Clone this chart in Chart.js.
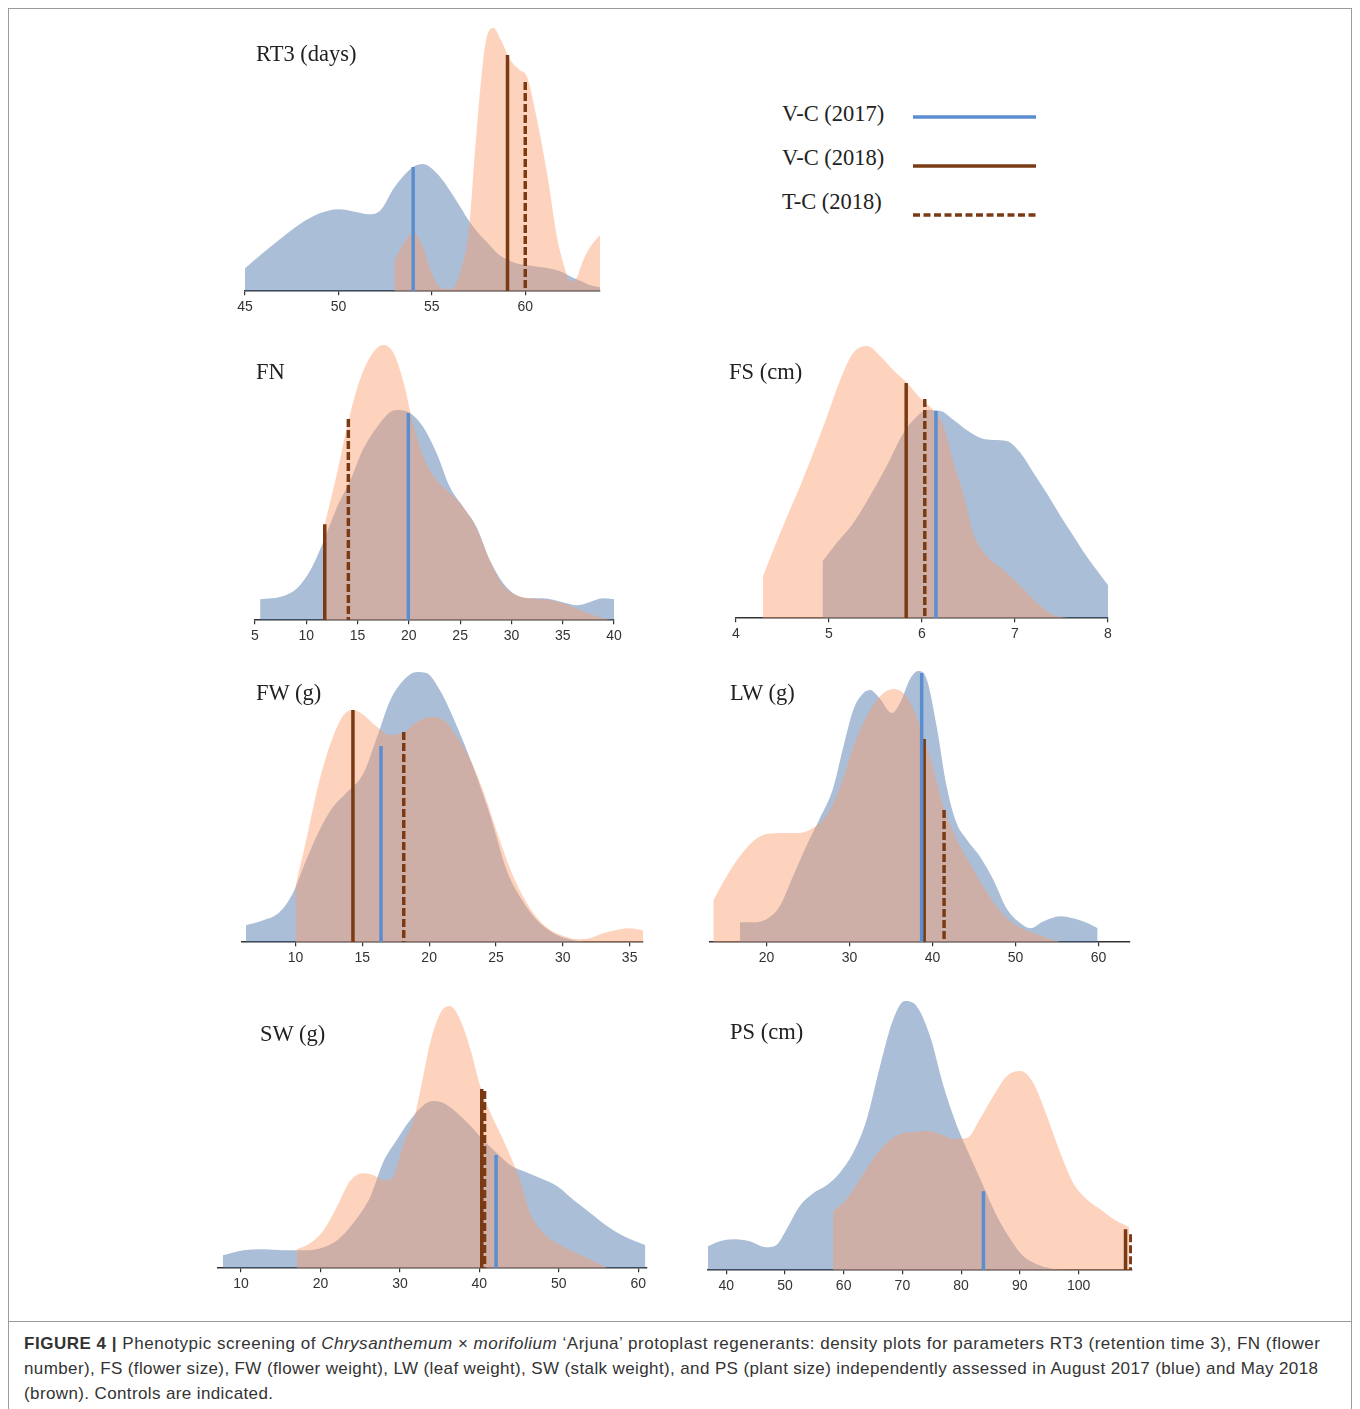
<!DOCTYPE html>
<html>
<head>
<meta charset="utf-8">
<script src="https://cdn.jsdelivr.net/npm/chart.js@4/dist/chart.umd.min.js"></script>
<style>
  html, body { margin:0; padding:0; background:#fff; }
  #page { position:relative; width:1360px; height:1409px; overflow:hidden; background:#fff; }
  canvas { position:absolute; }
  .frame { position:absolute; background:#9a9a9a; }
  .ptitle { position:absolute; font-family:"Liberation Serif","Times New Roman",serif; font-size:22.5px; line-height:22.5px; color:#222; white-space:nowrap; }
  .legline { position:absolute; }
  .capline { position:absolute; left:24px; font-family:"Liberation Sans",Arial,sans-serif; font-size:17px; line-height:25px; color:#333; white-space:nowrap; }
</style>
</head>
<body>
<div id="page">
  <div class="frame" style="left:8px;top:8px;width:1344px;height:1px;"></div>
  <div class="frame" style="left:8px;top:8px;width:1px;height:1401px;"></div>
  <div class="frame" style="left:1351px;top:8px;width:1px;height:1401px;"></div>
  <div class="frame" style="left:8px;top:1321px;width:1344px;height:1px;"></div>

  <canvas id="cRT3" width="395" height="309" style="left:225px;top:11px;"></canvas>
  <canvas id="cFN" width="399" height="309" style="left:235px;top:340px;"></canvas>
  <canvas id="cFS" width="412" height="309" style="left:716px;top:338px;"></canvas>
  <canvas id="cFW" width="441" height="309" style="left:222px;top:662px;"></canvas>
  <canvas id="cLW" width="460" height="309" style="left:690px;top:662px;"></canvas>
  <canvas id="cSW" width="469" height="309" style="left:198px;top:988px;"></canvas>
  <canvas id="cPS" width="464" height="309" style="left:688px;top:990px;"></canvas>

  <div class="ptitle" style="left:256px;top:43px;">RT3 (days)</div>
  <div class="ptitle" style="left:256px;top:361px;">FN</div>
  <div class="ptitle" style="left:729px;top:361px;">FS (cm)</div>
  <div class="ptitle" style="left:256px;top:682px;">FW (g)</div>
  <div class="ptitle" style="left:730px;top:682px;">LW (g)</div>
  <div class="ptitle" style="left:260px;top:1023px;">SW (g)</div>
  <div class="ptitle" style="left:730px;top:1021px;">PS (cm)</div>

  <div class="ptitle" style="left:782px;top:103px;">V-C (2017)</div>
  <div class="ptitle" style="left:782px;top:147px;">V-C (2018)</div>
  <div class="ptitle" style="left:782px;top:191px;">T-C (2018)</div>
  <svg class="legline" style="left:900px;top:100px;" width="150" height="130">
    <line x1="13" y1="17" x2="136" y2="17" stroke="#5b8ed1" stroke-width="3.5"/>
    <line x1="13" y1="66" x2="136" y2="66" stroke="#7a3b14" stroke-width="3.5"/>
    <line x1="13" y1="115" x2="136" y2="115" stroke="#7a3b14" stroke-width="3.5" stroke-dasharray="7 3.5"/>
  </svg>

  <div class="capline" data-w="1296" style="top:1331px;"><b>FIGURE 4 |</b> Phenotypic screening of <i>Chrysanthemum</i> × <i>morifolium</i> ‘Arjuna’ protoplast regenerants: density plots for parameters RT3 (retention time 3), FN (flower</div>
  <div class="capline" data-w="1294" style="top:1356px;">number), FS (flower size), FW (flower weight), LW (leaf weight), SW (stalk weight), and PS (plant size) independently assessed in August 2017 (blue) and May 2018</div>
  <div class="capline" data-w="249" style="top:1381px;">(brown). Controls are indicated.</div>
</div>

<script>
// ---------------- DATA (density heights in arbitrary units) ----------------
// RT3
const RT3_TICKS = [45, 50, 55, 60];
const RT3_BLUE_X = [45, 46, 47, 48, 49, 50, 51, 51.6, 52.2, 53, 54, 54.5, 55.3, 56.3, 57, 57.5, 58, 58.5, 59, 59.5, 60.5, 61.5, 62, 62.5, 63, 63.5, 64];
const RT3_BLUE_Y = [23, 39, 54, 68, 78, 82, 79, 77, 80, 104, 124, 127, 117, 91, 70, 58, 48, 38, 32, 28, 25, 22, 19, 14, 10, 6, 4];
const RT3_PINK_X = [53, 53.5, 54, 54.5, 55, 55.5, 56, 56.5, 57, 57.3, 57.6, 57.9, 58.3, 58.7, 59.2, 59.7, 60.1, 60.6, 61.2, 61.7, 62.1, 62.4, 62.7, 63.1, 63.5, 64];
const RT3_PINK_Y = [31, 48, 59, 45, 18, 3, 2, 18, 64, 138, 204, 251, 263, 251, 231, 221, 214, 174, 114, 54, 24, 10, 12, 31, 45, 56];
const RT3_CTRL_X = [54.0, 59.05, 60.0];   // V-C 2017, V-C 2018, T-C 2018
const RT3_CTRL_H = [124, 236, 209];

// FN
const FN_TICKS = [5, 10, 15, 20, 25, 30, 35, 40];
const FN_BLUE_X = [5.5, 7.7, 9.1, 10.4, 11.6, 13.0, 14.3, 15.5, 16.9, 18.2, 19.1, 20.1, 21.4, 22.7, 24.0, 25.3, 26.6, 27.9, 29.2, 30.5, 31.8, 33.1, 35.0, 36.4, 37.6, 38.9, 40];
const FN_BLUE_Y = [21, 24, 32, 50, 77, 113, 140, 170, 193, 208, 210, 207, 193, 167, 133, 113, 93, 60, 37, 25, 22, 22, 18, 15, 18, 22, 21];
const FN_PINK_X = [11.8, 13.0, 13.9, 14.9, 15.9, 16.9, 17.5, 18.5, 19.5, 20.4, 21.4, 22.7, 24.0, 25.3, 26.6, 27.9, 29.2, 30.5, 31.8, 33.8, 35.0, 37.0, 38.9, 40];
const FN_PINK_Y = [96, 147, 190, 230, 257, 272, 275, 267, 237, 197, 164, 140, 127, 113, 92, 60, 35, 25, 22, 20, 17, 9, 2, 0];
const FN_CTRL_X = [19.95, 11.8, 14.1];
const FN_CTRL_H = [207, 96, 201];

// FS
const FS_TICKS = [4, 5, 6, 7, 8];
const FS_BLUE_X = [4.93, 5.08, 5.26, 5.44, 5.62, 5.80, 5.95, 6.05, 6.20, 6.34, 6.48, 6.63, 6.77, 6.91, 7.06, 7.20, 7.34, 7.49, 7.63, 7.77, 7.92, 8.0];
const FS_BLUE_Y = [57, 75, 95, 122, 152, 185, 202, 208, 207, 198, 188, 180, 178, 177, 165, 145, 125, 102, 82, 62, 43, 33];
const FS_PINK_X = [4.29, 4.40, 4.55, 4.69, 4.83, 4.98, 5.12, 5.26, 5.41, 5.55, 5.69, 5.84, 5.98, 6.12, 6.23, 6.34, 6.45, 6.55, 6.70, 6.88, 7.06, 7.24, 7.42, 7.6];
const FS_PINK_Y = [42, 68, 102, 132, 165, 202, 238, 265, 272, 262, 248, 235, 220, 208, 192, 155, 122, 85, 62, 48, 32, 15, 3, 0];
const FS_CTRL_X = [6.15, 5.83, 6.03];
const FS_CTRL_H = [207, 235, 219];

// FW
const FW_TICKS = [10, 15, 20, 25, 30, 35];
const FW_BLUE_X = [6.3, 7.6, 8.8, 9.8, 10.8, 11.8, 12.8, 13.8, 15.1, 16.1, 17.1, 18.1, 19.1, 19.8, 20.8, 22.1, 23.3, 24.6, 25.8, 27.1, 28.3, 29.6, 30.8, 32];
const FW_BLUE_Y = [17, 22, 30, 49, 82, 112, 135, 149, 169, 205, 242, 262, 270, 269, 252, 215, 175, 125, 72, 39, 19, 7, 2, 0];
const FW_PINK_X = [10.0, 10.8, 11.8, 12.8, 13.6, 14.3, 15.1, 16.1, 17.1, 18.1, 19.1, 20.1, 21.1, 22.1, 23.1, 24.1, 25.1, 26.1, 27.1, 28.1, 29.1, 30.1, 31.1, 32.0, 33.0, 34.3, 35.0, 36.0];
const FW_PINK_Y = [56, 102, 162, 205, 227, 232, 227, 215, 207, 210, 220, 225, 222, 205, 182, 149, 109, 72, 44, 24, 12, 6, 3, 4, 9, 13, 14, 12];
const FW_CTRL_X = [16.4, 14.3, 18.1];
const FW_CTRL_H = [196, 232, 210];

// LW
const LW_TICKS = [20, 30, 40, 50, 60];
const LW_BLUE_X = [16.8, 18.4, 20.0, 21.6, 23.2, 24.8, 26.4, 28.0, 29.2, 30.5, 31.7, 32.5, 33.7, 35.1, 36.1, 37.3, 38.3, 39.3, 40.5, 41.7, 42.9, 44.1, 45.7, 47.3, 49.0, 50.6, 51.8, 53.4, 55.4, 57.4, 59.0, 59.9];
const LW_BLUE_Y = [20, 20, 23, 36, 66, 96, 123, 153, 193, 233, 249, 252, 243, 229, 239, 263, 271, 263, 216, 156, 119, 103, 86, 63, 33, 19, 14, 21, 26, 23, 18, 14];
const LW_PINK_X = [13.6, 15.2, 16.8, 18.4, 20.0, 22.0, 24.0, 25.6, 27.2, 28.8, 30.5, 32.1, 33.7, 35.3, 36.5, 37.7, 38.9, 40.1, 41.3, 42.9, 44.5, 46.1, 47.7, 49.4, 51.0, 52.6, 54.2, 55.5];
const LW_PINK_Y = [42, 66, 86, 101, 108, 109, 109, 114, 126, 153, 196, 226, 246, 253, 249, 233, 206, 173, 136, 103, 79, 56, 36, 21, 13, 8, 3, 0];
const LW_CTRL_X = [38.7, 39.0, 41.4];
const LW_CTRL_H = [269, 203, 132];

// SW
const SW_TICKS = [10, 20, 30, 40, 50, 60];
const SW_BLUE_X = [7.7, 10.3, 12.8, 15.3, 17.9, 20.0, 22.1, 24.1, 26.3, 27.9, 29.6, 31.3, 33.0, 34.2, 35.5, 37.2, 38.9, 40.5, 42.2, 43.9, 45.6, 47.7, 49.8, 51.9, 54.0, 56.1, 58.2, 60.9];
const SW_BLUE_Y = [13, 18, 19, 18, 18, 20, 28, 45, 72, 106, 128, 148, 163, 167, 165, 155, 142, 128, 115, 103, 97, 90, 82, 68, 55, 42, 32, 23];
const SW_PINK_X = [17.0, 18.7, 20.4, 22.1, 23.7, 25.4, 26.7, 27.9, 29.0, 30.5, 31.7, 32.5, 33.8, 35.1, 36.3, 37.6, 38.9, 40.1, 41.4, 42.6, 43.9, 45.1, 46.4, 48.1, 50.2, 52.3, 54.4, 56.1];
const SW_PINK_Y = [19, 25, 38, 62, 87, 95, 93, 88, 90, 125, 148, 175, 225, 255, 262, 248, 218, 182, 155, 135, 112, 88, 55, 35, 23, 15, 7, 0];
const SW_CTRL_X = [42.1, 40.3, 40.65];
const SW_CTRL_H = [113, 179, 177];

// PS
const PS_TICKS = [40, 50, 60, 70, 80, 90, 100];
const PS_BLUE_X = [36.9, 38.9, 41.1, 44.0, 46.8, 48.5, 50.2, 52.5, 54.8, 57.1, 59.3, 61.6, 63.9, 66.2, 68.4, 70.4, 72.4, 74.7, 77.0, 79.3, 81.5, 83.8, 86.1, 88.4, 90.6, 92.9, 95.2, 97.5];
const PS_BLUE_Y = [24, 29, 31, 29, 23, 25, 40, 64, 77, 85, 97, 117, 150, 204, 250, 269, 264, 234, 184, 144, 114, 84, 54, 31, 14, 6, 2, 0];
const PS_PINK_X = [58.2, 60.5, 62.8, 65.0, 67.3, 69.6, 71.9, 74.1, 76.4, 78.7, 81.0, 83.2, 85.5, 87.8, 90.1, 92.3, 94.6, 96.9, 99.1, 101.4, 103.7, 106.0, 108.3, 108.6];
const PS_PINK_Y = [59, 71, 91, 111, 127, 136, 138, 139, 136, 131, 132, 151, 174, 194, 199, 187, 154, 117, 87, 71, 61, 51, 44, 43];
const PS_CTRL_X = [83.8, 108.0, 108.9];
const PS_CTRL_H = [79, 41, 36];

const CTRL_NAMES = ['V-C (2017)', 'V-C (2018)', 'T-C (2018)'];
const Y_MAX = 280;

// ---------------- STYLE ----------------
const BLUE_FILL = 'rgba(66,110,166,0.45)';
const PINK_FILL = 'rgba(251,157,108,0.45)';
const BLUE_LINE = '#5b8ed1';
const BROWN_LINE = '#7a3b14';

function pts(xs, ys) { return xs.map((x, i) => ({ x: x, y: ys[i] })); }

function makeChart(id, min, max, ticks, bx, by, px, py, cx, ch) {
  const ctrlStyles = [
    { color: BLUE_LINE, dash: [] },
    { color: BROWN_LINE, dash: [] },
    { color: BROWN_LINE, dash: [8, 3] }
  ];
  const datasets = [];
  cx.forEach((x, i) => {
    datasets.push({
      label: CTRL_NAMES[i],
      data: [{ x: x, y: ch[i] }, { x: x, y: 0 }],
      borderColor: ctrlStyles[i].color,
      borderDash: ctrlStyles[i].dash,
      borderWidth: 3.5,
      borderCapStyle: 'butt',
      pointRadius: 0,
      fill: false,
      tension: 0,
      order: i === 0 ? 0 : 1
    });
  });
  datasets.push({
    label: '2018',
    data: pts(px, py),
    backgroundColor: PINK_FILL,
    borderColor: 'rgba(0,0,0,0)',
    borderWidth: 0,
    pointRadius: 0,
    fill: 'origin',
    cubicInterpolationMode: 'monotone',
    order: 5
  });
  datasets.push({
    label: '2017',
    data: pts(bx, by),
    backgroundColor: BLUE_FILL,
    borderColor: 'rgba(0,0,0,0)',
    borderWidth: 0,
    pointRadius: 0,
    fill: 'origin',
    cubicInterpolationMode: 'monotone',
    order: 6
  });
  return new Chart(document.getElementById(id), {
    type: 'line',
    data: { datasets: datasets },
    options: {
      responsive: false,
      animation: false,
      maintainAspectRatio: false,
      layout: { padding: { left: 20, right: 20, top: 0, bottom: 0 } },
      plugins: { legend: { display: false }, tooltip: { enabled: false }, title: { display: false } },
      scales: {
        x: {
          type: 'linear',
          min: min, max: max,
          afterBuildTicks: (s) => { s.ticks = ticks.map(v => ({ value: v })); },
          grid: { display: true, drawOnChartArea: false, drawTicks: true, tickLength: 4, color: '#333', lineWidth: 1.2 },
          border: { display: true, color: '#333', width: 1.5 },
          ticks: { font: { family: '"Liberation Sans", Arial, sans-serif', size: 14 }, color: '#333', padding: 4, maxRotation: 0, autoSkip: false }
        },
        y: { display: false, min: 0, max: Y_MAX }
      }
    }
  });
}

makeChart('cRT3', 45, 64, RT3_TICKS, RT3_BLUE_X, RT3_BLUE_Y, RT3_PINK_X, RT3_PINK_Y, RT3_CTRL_X, RT3_CTRL_H);
makeChart('cFN', 5, 40, FN_TICKS, FN_BLUE_X, FN_BLUE_Y, FN_PINK_X, FN_PINK_Y, FN_CTRL_X, FN_CTRL_H);
makeChart('cFS', 4, 8, FS_TICKS, FS_BLUE_X, FS_BLUE_Y, FS_PINK_X, FS_PINK_Y, FS_CTRL_X, FS_CTRL_H);
makeChart('cFW', 6, 36, FW_TICKS, FW_BLUE_X, FW_BLUE_Y, FW_PINK_X, FW_PINK_Y, FW_CTRL_X, FW_CTRL_H);
makeChart('cLW', 13.2, 63.8, LW_TICKS, LW_BLUE_X, LW_BLUE_Y, LW_PINK_X, LW_PINK_Y, LW_CTRL_X, LW_CTRL_H);
makeChart('cSW', 7.1, 61.1, SW_TICKS, SW_BLUE_X, SW_BLUE_Y, SW_PINK_X, SW_PINK_Y, SW_CTRL_X, SW_CTRL_H);
makeChart('cPS', 36.9, 109.1, PS_TICKS, PS_BLUE_X, PS_BLUE_Y, PS_PINK_X, PS_PINK_Y, PS_CTRL_X, PS_CTRL_H);

// fit caption lines to the reference line widths
document.querySelectorAll('.capline').forEach(el => {
  const target = parseFloat(el.dataset.w);
  const w = el.getBoundingClientRect().width;
  const n = el.textContent.length;
  if (n > 1) el.style.letterSpacing = ((target - w) / (n - 1)) + 'px';
});
</script>
</body>
</html>
